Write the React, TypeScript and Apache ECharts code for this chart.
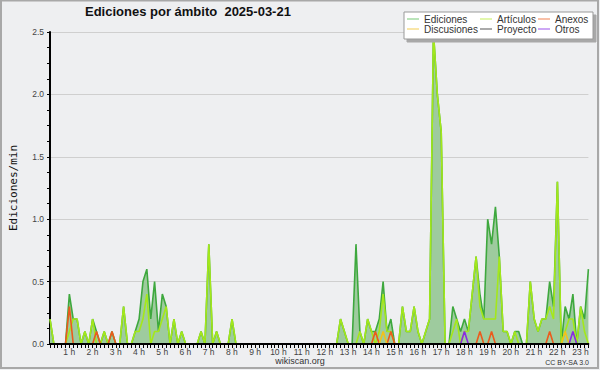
import React, { useEffect, useRef } from "react";
import * as echarts from "echarts";

// 10-minute slots of the day, 00:00 .. 23:10
const categories: string[] = [];
for (let h = 0; h < 24; h++) {
  for (let m = 0; m < 60; m += 10) {
    categories.push(`${String(h).padStart(2, "0")}:${String(m).padStart(2, "0")}`);
  }
}
categories.length = 140;

const titleText = "Ediciones por ámbito  2025-03-21";
const yAxisName = "Ediciones/min";
const yTicks = [0, 0.5, 1.0, 1.5, 2.0, 2.5];

const ediciones = [
  0.2, 0, 0, 0, 0, 0.4,
  0.2, 0.2, 0, 0.1, 0, 0.2,
  0.1, 0, 0.1, 0, 0.1, 0,
  0, 0.3, 0, 0, 0.1, 0.2,
  0.5, 0.6, 0.2, 0.5, 0.1, 0.4,
  0.3, 0, 0.2, 0, 0.1, 0,
  0, 0, 0, 0.1, 0, 0.8,
  0, 0.1, 0, 0, 0, 0.2,
  0, 0, 0, 0, 0, 0,
  0, 0, 0, 0, 0, 0,
  0, 0, 0, 0, 0, 0,
  0, 0, 0, 0, 0, 0,
  0, 0, 0, 0.2, 0.1, 0,
  0, 0.8, 0.1, 0, 0.2, 0.1,
  0.1, 0.2, 0.5, 0.1, 0.2, 0,
  0, 0.3, 0.1, 0.1, 0.3, 0.1,
  0, 0.1, 0.2, 2.5, 2.0, 1.7,
  0, 0, 0.3, 0.2, 0.1, 0.2,
  0.1, 0.4, 0.7, 0.4, 0.2, 1.0,
  0.8, 1.1, 0.7, 0.1, 0.1, 0,
  0.1, 0.1, 0, 0, 0.5, 0.2,
  0.1, 0.2, 0.2, 0.5, 0.3, 1.3,
  0, 0.3, 0.2, 0.4, 0, 0.3,
  0.2, 0.6,
];

const articulos = [
  0.2, 0, 0, 0, 0, 0.1,
  0.2, 0.2, 0, 0.1, 0, 0.2,
  0, 0, 0.1, 0, 0, 0,
  0, 0.3, 0, 0, 0.1, 0.1,
  0.2, 0.4, 0, 0.1, 0.1, 0.2,
  0.3, 0, 0.2, 0, 0.1, 0,
  0, 0, 0, 0.1, 0, 0.8,
  0, 0.1, 0, 0, 0, 0.2,
  0, 0, 0, 0, 0, 0,
  0, 0, 0, 0, 0, 0,
  0, 0, 0, 0, 0, 0,
  0, 0, 0, 0, 0, 0,
  0, 0, 0, 0.2, 0.1, 0,
  0, 0, 0.1, 0, 0.2, 0.1,
  0, 0.1, 0.4, 0.1, 0.1, 0,
  0, 0.3, 0.1, 0.1, 0.3, 0.1,
  0, 0.1, 0.2, 2.5, 2.0, 1.7,
  0, 0, 0.1, 0.2, 0, 0.1,
  0.1, 0.4, 0.7, 0.3, 0.2, 0.2,
  0.2, 0.2, 0.7, 0.1, 0.1, 0,
  0.1, 0, 0, 0, 0.5, 0.2,
  0.1, 0.2, 0.2, 0.3, 0.2, 1.3,
  0, 0.1, 0.2, 0.2, 0, 0.3,
  0.1, 0,
];

const anexos = [
  0, 0, 0, 0, 0, 0.3,
  0, 0, 0, 0, 0, 0,
  0.1, 0, 0, 0, 0.1, 0,
  0, 0, 0, 0, 0, 0,
  0, 0, 0, 0, 0, 0,
  0, 0, 0, 0, 0, 0,
  0, 0, 0, 0, 0, 0,
  0, 0, 0, 0, 0, 0,
  0, 0, 0, 0, 0, 0,
  0, 0, 0, 0, 0, 0,
  0, 0, 0, 0, 0, 0,
  0, 0, 0, 0, 0, 0,
  0, 0, 0, 0, 0, 0,
  0, 0, 0, 0, 0, 0,
  0.1, 0, 0, 0, 0.1, 0,
  0, 0, 0, 0, 0, 0,
  0, 0, 0, 0, 0, 0,
  0, 0, 0, 0, 0, 0,
  0, 0, 0, 0.1, 0, 0,
  0.1, 0, 0, 0, 0, 0,
  0, 0, 0, 0, 0, 0,
  0, 0, 0, 0.1, 0, 0,
  0, 0, 0, 0, 0, 0,
  0, 0,
];

const discusiones = [
  0, 0, 0, 0, 0, 0,
  0, 0, 0, 0, 0, 0,
  0, 0, 0, 0, 0, 0,
  0, 0, 0, 0, 0, 0,
  0, 0, 0, 0, 0, 0,
  0, 0, 0, 0, 0, 0,
  0, 0, 0, 0, 0, 0,
  0, 0, 0, 0, 0, 0,
  0, 0, 0, 0, 0, 0,
  0, 0, 0, 0, 0, 0,
  0, 0, 0, 0, 0, 0,
  0, 0, 0, 0, 0, 0,
  0, 0, 0, 0, 0, 0,
  0, 0, 0, 0, 0, 0,
  0, 0, 0.1, 0, 0, 0,
  0, 0, 0, 0, 0, 0,
  0, 0, 0, 0, 0, 0,
  0, 0, 0, 0, 0, 0,
  0, 0, 0, 0, 0, 0,
  0, 0, 0, 0, 0, 0,
  0, 0, 0, 0, 0, 0,
  0, 0, 0, 0, 0, 0,
  0, 0.1, 0, 0, 0, 0,
  0, 0,
];

const proyecto = [
  0, 0, 0, 0, 0, 0,
  0, 0, 0, 0, 0, 0,
  0, 0, 0, 0, 0, 0,
  0, 0, 0, 0, 0, 0,
  0, 0, 0, 0, 0, 0,
  0, 0, 0, 0, 0, 0,
  0, 0, 0, 0, 0, 0,
  0, 0, 0, 0, 0, 0,
  0, 0, 0, 0, 0, 0,
  0, 0, 0, 0, 0, 0,
  0, 0, 0, 0, 0, 0,
  0, 0, 0, 0, 0, 0,
  0, 0, 0, 0, 0, 0,
  0, 0, 0, 0, 0, 0,
  0, 0, 0, 0, 0, 0,
  0, 0, 0, 0, 0, 0,
  0, 0, 0, 0, 0, 0,
  0, 0, 0, 0, 0, 0,
  0, 0, 0, 0, 0, 0,
  0, 0, 0, 0, 0, 0,
  0, 0, 0, 0, 0, 0,
  0, 0, 0, 0, 0, 0,
  0, 0, 0, 0, 0, 0,
  0, 0,
];

const otros = [
  0, 0, 0, 0, 0, 0,
  0, 0, 0, 0, 0, 0,
  0, 0, 0, 0, 0, 0,
  0, 0, 0, 0, 0, 0,
  0, 0, 0, 0, 0, 0,
  0, 0, 0, 0, 0, 0,
  0, 0, 0, 0, 0, 0,
  0, 0, 0, 0, 0, 0,
  0, 0, 0, 0, 0, 0,
  0, 0, 0, 0, 0, 0,
  0, 0, 0, 0, 0, 0,
  0, 0, 0, 0, 0, 0,
  0, 0, 0, 0, 0, 0,
  0, 0, 0, 0, 0, 0,
  0, 0, 0, 0, 0, 0,
  0, 0, 0, 0, 0, 0,
  0, 0, 0, 0, 0, 0,
  0, 0, 0, 0, 0, 0.1,
  0, 0, 0, 0, 0, 0,
  0, 0, 0, 0, 0, 0,
  0, 0, 0, 0, 0, 0,
  0, 0, 0, 0, 0, 0,
  0, 0, 0, 0.1, 0, 0,
  0, 0,
];

const seriesDefs = [
  { name: "Ediciones", data: ediciones, color: "#3ea83e", legendColor: "#74c874" },
  { name: "Artículos", data: articulos, color: "#a4e81a", legendColor: "#c4ee5a" },
  { name: "Anexos", data: anexos, color: "#ec5a1c", legendColor: "#f08050" },
  { name: "Discusiones", data: discusiones, color: "#f2c21a", legendColor: "#f2cc50" },
  { name: "Proyecto", data: proyecto, color: "#555555", legendColor: "#555555" },
  { name: "Otros", data: otros, color: "#8a2be2", legendColor: "#9a50ea" },
];

const legendColumns = [
  ["Ediciones", "Discusiones"],
  ["Artículos", "Proyecto"],
  ["Anexos", "Otros"],
];
const legendLeft = [407, 480, 538];

export default function App() {
  const ref = useRef<HTMLDivElement>(null);
  useEffect(() => {
    if (!ref.current) return;
    const chart = echarts.init(ref.current, undefined, { renderer: "svg" });
    const font = "Liberation Sans";
    chart.setOption({
      animation: false,
      backgroundColor: "#eeeff1",
      title: {
        text: titleText,
        left: 85,
        top: 5,
        padding: 0,
        textStyle: { fontFamily: font, fontWeight: "bold", fontSize: 13, color: "#111" },
      },
      grid: { left: 47, right: 11.6, top: 32, bottom: 26, containLabel: false },
      legend: legendColumns.map((col, k) => ({
        data: col,
        orient: "vertical",
        left: legendLeft[k],
        top: 14,
        itemGap: 0,
        itemWidth: 12,
        itemHeight: 1,
        padding: 0,
        selectedMode: false,
        icon: "rect",
        textStyle: { fontFamily: font, fontSize: 10, color: "#333", lineHeight: 10 },
        z: 10,
      })),
      xAxis: {
        type: "category",
        data: categories,
        boundaryGap: false,
        z: 10,
        axisLine: { lineStyle: { color: "#000", width: 2 } },
        axisTick: { show: true, interval: 0, length: 4, inside: false, lineStyle: { color: "#000" } },
        axisLabel: {
          interval: (i: number) => i % 6 === 0 && i > 0,
          formatter: (v: string) => `${parseInt(v.slice(0, 2), 10)} h`,
          fontFamily: font,
          fontSize: 8.5,
          color: "#444",
          margin: 3,
          padding: [0, 8, 0, 0],
        },
        splitLine: { show: false },
      },
      yAxis: {
        type: "value",
        min: 0,
        max: 2.5,
        interval: 0.5,
        name: yAxisName,
        nameLocation: "middle",
        nameGap: 31,
        nameRotate: 90,
        nameTextStyle: { fontFamily: "DejaVu Sans Mono", fontSize: 11, color: "#111" },
        axisLine: { show: true, lineStyle: { color: "#000", width: 2 } },
        axisTick: { show: true, length: 3, lineStyle: { color: "#000" } },
        minorTick: { show: true, splitNumber: 4, length: 3, lineStyle: { color: "#000" } },
        axisLabel: {
          formatter: (v: number) => (yTicks.includes(v) ? v.toFixed(1) : ""),
          fontFamily: font,
          fontSize: 8.5,
          color: "#444",
          margin: 6,
        },
        splitLine: { show: true, lineStyle: { color: "#cfcfcf", width: 1 } },
      },
      series: seriesDefs.map((s, k) => ({
        name: s.name,
        type: "line",
        data: s.data,
        symbol: "none",
        color: s.legendColor,
        lineStyle: { color: s.color, width: 1.6 },
        itemStyle: { color: s.legendColor },
        areaStyle: k === 0 ? { color: "#9ecb9e", opacity: 1 } : undefined,
        z: 2 + k,
      })),
      graphic: [
        {
          type: "rect",
          shape: { x: 404, y: 12, width: 189, height: 27 },
          style: { fill: "#ffffff", stroke: "#999999", lineWidth: 1, shadowColor: "#a8a8a8", shadowOffsetX: 3, shadowOffsetY: 3, shadowBlur: 0 },
          z: 8,
        },
        {
          type: "text",
          style: { text: "wikiscan.org", x: 300, y: 361, align: "center", verticalAlign: "middle", font: `9px '${font}'`, fill: "#333" },
        },
        {
          type: "text",
          style: { text: "CC BY-SA 3.0", x: 589, y: 362, align: "right", verticalAlign: "middle", font: `7px '${font}'`, fill: "#333" },
        },
        {
          type: "rect",
          shape: { x: 1, y: 0.5, width: 597, height: 367.5 },
          style: { fill: "none", stroke: "#a8a8a8", lineWidth: 2 },
          z: 20,
        },
      ],
    });
    return () => chart.dispose();
  }, []);
  return <div ref={ref} style={{ position: "fixed", left: 0, top: 0, width: 600, height: 370 }} />;
}
